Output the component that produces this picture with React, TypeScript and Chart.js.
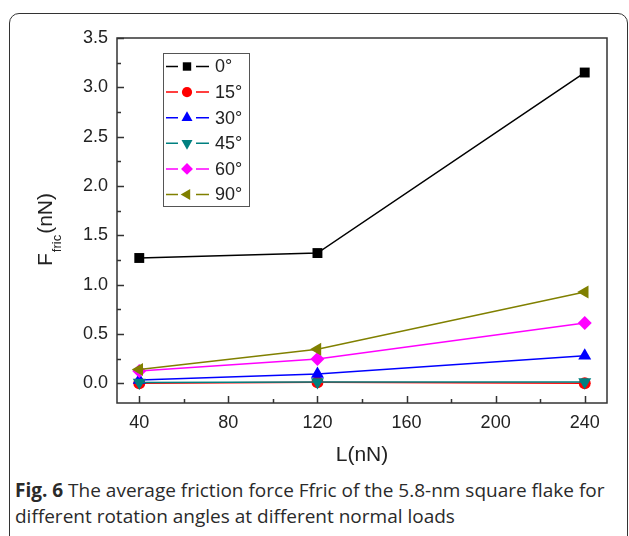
import React, { useEffect, useRef } from "react";
import { Chart, registerables } from "chart.js";

Chart.register(...registerables);

// ---- data ----
const loads = [40, 120, 240];
const seriesLabels = ["0°", "15°", "30°", "45°", "60°", "90°"];
const f0 = [1.27, 1.32, 3.15];
const f15 = [0.0, 0.01, 0.0];
const f30 = [0.033, 0.094, 0.28];
const f45 = [0.008, 0.012, 0.012];
const f60 = [0.125, 0.245, 0.61];
const f90 = [0.14, 0.345, 0.925];
const xTicks = [40, 80, 120, 160, 200, 240];
const xMinorTicks = [60, 100, 140, 180, 220];
const yTicks = [0, 0.5, 1.0, 1.5, 2.0, 2.5, 3.0, 3.5];
const yMinorTicks = [0.25, 0.75, 1.25, 1.75, 2.25, 2.75, 3.25];
const xTitle = "L(nN)";
const yTitleMain = "F";
const yTitleSub = "fric";
const yTitleUnit = "(nN)";

// ---- styles ----
const colors = ["#000000", "#ff0000", "#0000ff", "#008080", "#ff00ff", "#808000"];
const shapes = ["rect", "circle", "triangle", "triangle", "rectRot", "triangle"];
const rotations = [0, 0, 0, 180, 0, -90];
const radii = [7, 6, 7.5, 7.5, 7, 7.5];
const FONT = "'Liberation Sans', Arial, sans-serif";

function drawMarker(ctx: CanvasRenderingContext2D, shape: string, rotDeg: number, r: number, x: number, y: number, color: string) {
  ctx.save();
  ctx.fillStyle = color;
  ctx.beginPath();
  let rad = (rotDeg * Math.PI) / 180;
  if (shape === "circle") {
    ctx.arc(x, y, r, 0, Math.PI * 2);
  } else if (shape === "rect") {
    const s = Math.SQRT1_2 * r;
    ctx.rect(x - s, y - s, 2 * s, 2 * s);
  } else if (shape === "rectRot") {
    ctx.moveTo(x - r, y);
    ctx.lineTo(x, y - r);
    ctx.lineTo(x + r, y);
    ctx.lineTo(x, y + r);
    ctx.closePath();
  } else {
    ctx.moveTo(x + Math.sin(rad) * r, y - Math.cos(rad) * r);
    rad += (2 * Math.PI) / 3;
    ctx.lineTo(x + Math.sin(rad) * r, y - Math.cos(rad) * r);
    rad += (2 * Math.PI) / 3;
    ctx.lineTo(x + Math.sin(rad) * r, y - Math.cos(rad) * r);
    ctx.closePath();
  }
  ctx.fill();
  ctx.restore();
}

const framePlugin = {
  id: "originFrame",
  beforeDatasetsDraw(chart: any) {
    const { ctx, chartArea: a, scales } = chart;
    const xs = scales.x;
    const ys = scales.y;
    ctx.save();
    ctx.strokeStyle = "#333333";
    ctx.lineWidth = 1.5;
    ctx.strokeRect(a.left, a.top, a.right - a.left, a.bottom - a.top);
    ctx.beginPath();
    xTicks.forEach((v) => {
      const px = Math.round(xs.getPixelForValue(v)) + 0.5;
      ctx.moveTo(px, a.bottom);
      ctx.lineTo(px, a.bottom - 7);
    });
    xMinorTicks.forEach((v) => {
      const px = Math.round(xs.getPixelForValue(v)) + 0.5;
      ctx.moveTo(px, a.bottom);
      ctx.lineTo(px, a.bottom - 4);
    });
    yTicks.forEach((v) => {
      const py = Math.round(ys.getPixelForValue(v)) + 0.5;
      ctx.moveTo(a.left, py);
      ctx.lineTo(a.left + 7, py);
    });
    yMinorTicks.forEach((v) => {
      const py = Math.round(ys.getPixelForValue(v)) + 0.5;
      ctx.moveTo(a.left, py);
      ctx.lineTo(a.left + 4, py);
    });
    ctx.stroke();
    ctx.restore();
  },
  afterDatasetsDraw(chart: any) {
    const { ctx, chartArea: a } = chart;
    ctx.save();
    // legend box
    const bx = 163.5, by = 53.5, bw = 86, bh = 153;
    ctx.fillStyle = "#ffffff";
    ctx.fillRect(bx, by, bw, bh);
    ctx.strokeStyle = "#555555";
    ctx.lineWidth = 1;
    ctx.strokeRect(bx, by, bw, bh);
    seriesLabels.forEach((lab, i) => {
      const y = 66.5 + i * 25.6;
      ctx.strokeStyle = colors[i];
      ctx.lineWidth = 1.5;
      ctx.beginPath();
      ctx.moveTo(166, y);
      ctx.lineTo(178, y);
      ctx.moveTo(196, y);
      ctx.lineTo(209, y);
      ctx.stroke();
      drawMarker(ctx, shapes[i], rotations[i], radii[i] * 0.85, 187, y, colors[i]);
      ctx.fillStyle = "#222222";
      ctx.font = "18px " + FONT;
      ctx.textAlign = "left";
      ctx.textBaseline = "middle";
      ctx.fillText(lab, 215, y + 1);
    });
    // x title
    ctx.fillStyle = "#222222";
    ctx.font = "21px " + FONT;
    ctx.textAlign = "center";
    ctx.textBaseline = "middle";
    ctx.fillText(xTitle, (a.left + a.right) / 2, 455);
    // y title
    ctx.translate(52, 266);
    ctx.rotate(-Math.PI / 2);
    ctx.textAlign = "left";
    ctx.textBaseline = "alphabetic";
    ctx.font = "21px " + FONT;
    ctx.fillText(yTitleMain, 0, 0);
    let w = ctx.measureText(yTitleMain).width + 1;
    ctx.font = "13px " + FONT;
    ctx.fillText(yTitleSub, w, 9);
    w += ctx.measureText(yTitleSub).width + 1;
    ctx.font = "21px " + FONT;
    ctx.fillText(yTitleUnit, w, 0);
    ctx.restore();
  },
};

export default function App() {
  const ref = useRef<HTMLCanvasElement | null>(null);

  useEffect(() => {
    if (!ref.current) return;
    const series = [f0, f15, f30, f45, f60, f90];
    const chart = new Chart(ref.current, {
      type: "line",
      data: {
        datasets: series.map((s, i) => ({
          label: seriesLabels[i],
          data: loads.map((x, j) => ({ x, y: s[j] })),
          borderColor: colors[i],
          backgroundColor: colors[i],
          borderWidth: 1.5,
          pointStyle: shapes[i] as any,
          rotation: rotations[i],
          pointRadius: radii[i],
          pointBorderWidth: 0,
          pointBackgroundColor: colors[i],
          pointBorderColor: colors[i],
          tension: 0,
          fill: false,
          order: -i,
        })),
      },
      options: {
        animation: false,
        responsive: false,
        maintainAspectRatio: false,
        devicePixelRatio: 1,
        layout: { padding: { left: 0, right: 22, top: 38, bottom: 0 } },
        plugins: { legend: { display: false }, tooltip: { enabled: false } },
        scales: {
          x: {
            type: "linear",
            min: 30,
            max: 250,
            grid: { display: false, drawTicks: false },
            border: { display: false },
            afterBuildTicks: (s: any) => {
              s.ticks = xTicks.map((v) => ({ value: v }));
            },
            afterFit: (s: any) => {
              s.height = 67;
            },
            ticks: {
              padding: 9,
              color: "#222222",
              font: { family: FONT, size: 18 },
              maxRotation: 0,
              callback: (v: any) => String(v),
            },
          },
          y: {
            type: "linear",
            min: -0.2,
            max: 3.5,
            grid: { display: false, drawTicks: false },
            border: { display: false },
            afterBuildTicks: (s: any) => {
              s.ticks = yTicks.map((v) => ({ value: v }));
            },
            afterFit: (s: any) => {
              s.width = 117;
            },
            ticks: {
              padding: 9,
              color: "#222222",
              font: { family: FONT, size: 18 },
              callback: (v: any) => Number(v).toFixed(1),
            },
          },
        },
      },
      plugins: [framePlugin],
    });
    return () => chart.destroy();
  }, []);

  return (
    <div style={{ position: "absolute", left: 0, top: 0, width: 629, height: 536, overflow: "hidden", background: "#fff" }}>
      <div
        style={{
          position: "absolute",
          left: 9,
          top: 13,
          width: 619,
          height: 560,
          boxSizing: "border-box",
          border: "1.5px solid #333",
          borderRadius: 10,
        }}
      />
      <canvas ref={ref} width={629} height={470} style={{ position: "absolute", left: 0, top: 0, width: 629, height: 470 }} />
      <div
        style={{
          position: "absolute",
          left: 15,
          top: 477,
          fontFamily: "'Open Sans', sans-serif",
          fontSize: 19,
          lineHeight: "26px",
          color: "#2a2a2a",
          whiteSpace: "nowrap",
        }}
      >
        <b>Fig. 6</b> The average friction force Ffric of the 5.8-nm square flake for
        <br />
        different rotation angles at different normal loads
      </div>
    </div>
  );
}
